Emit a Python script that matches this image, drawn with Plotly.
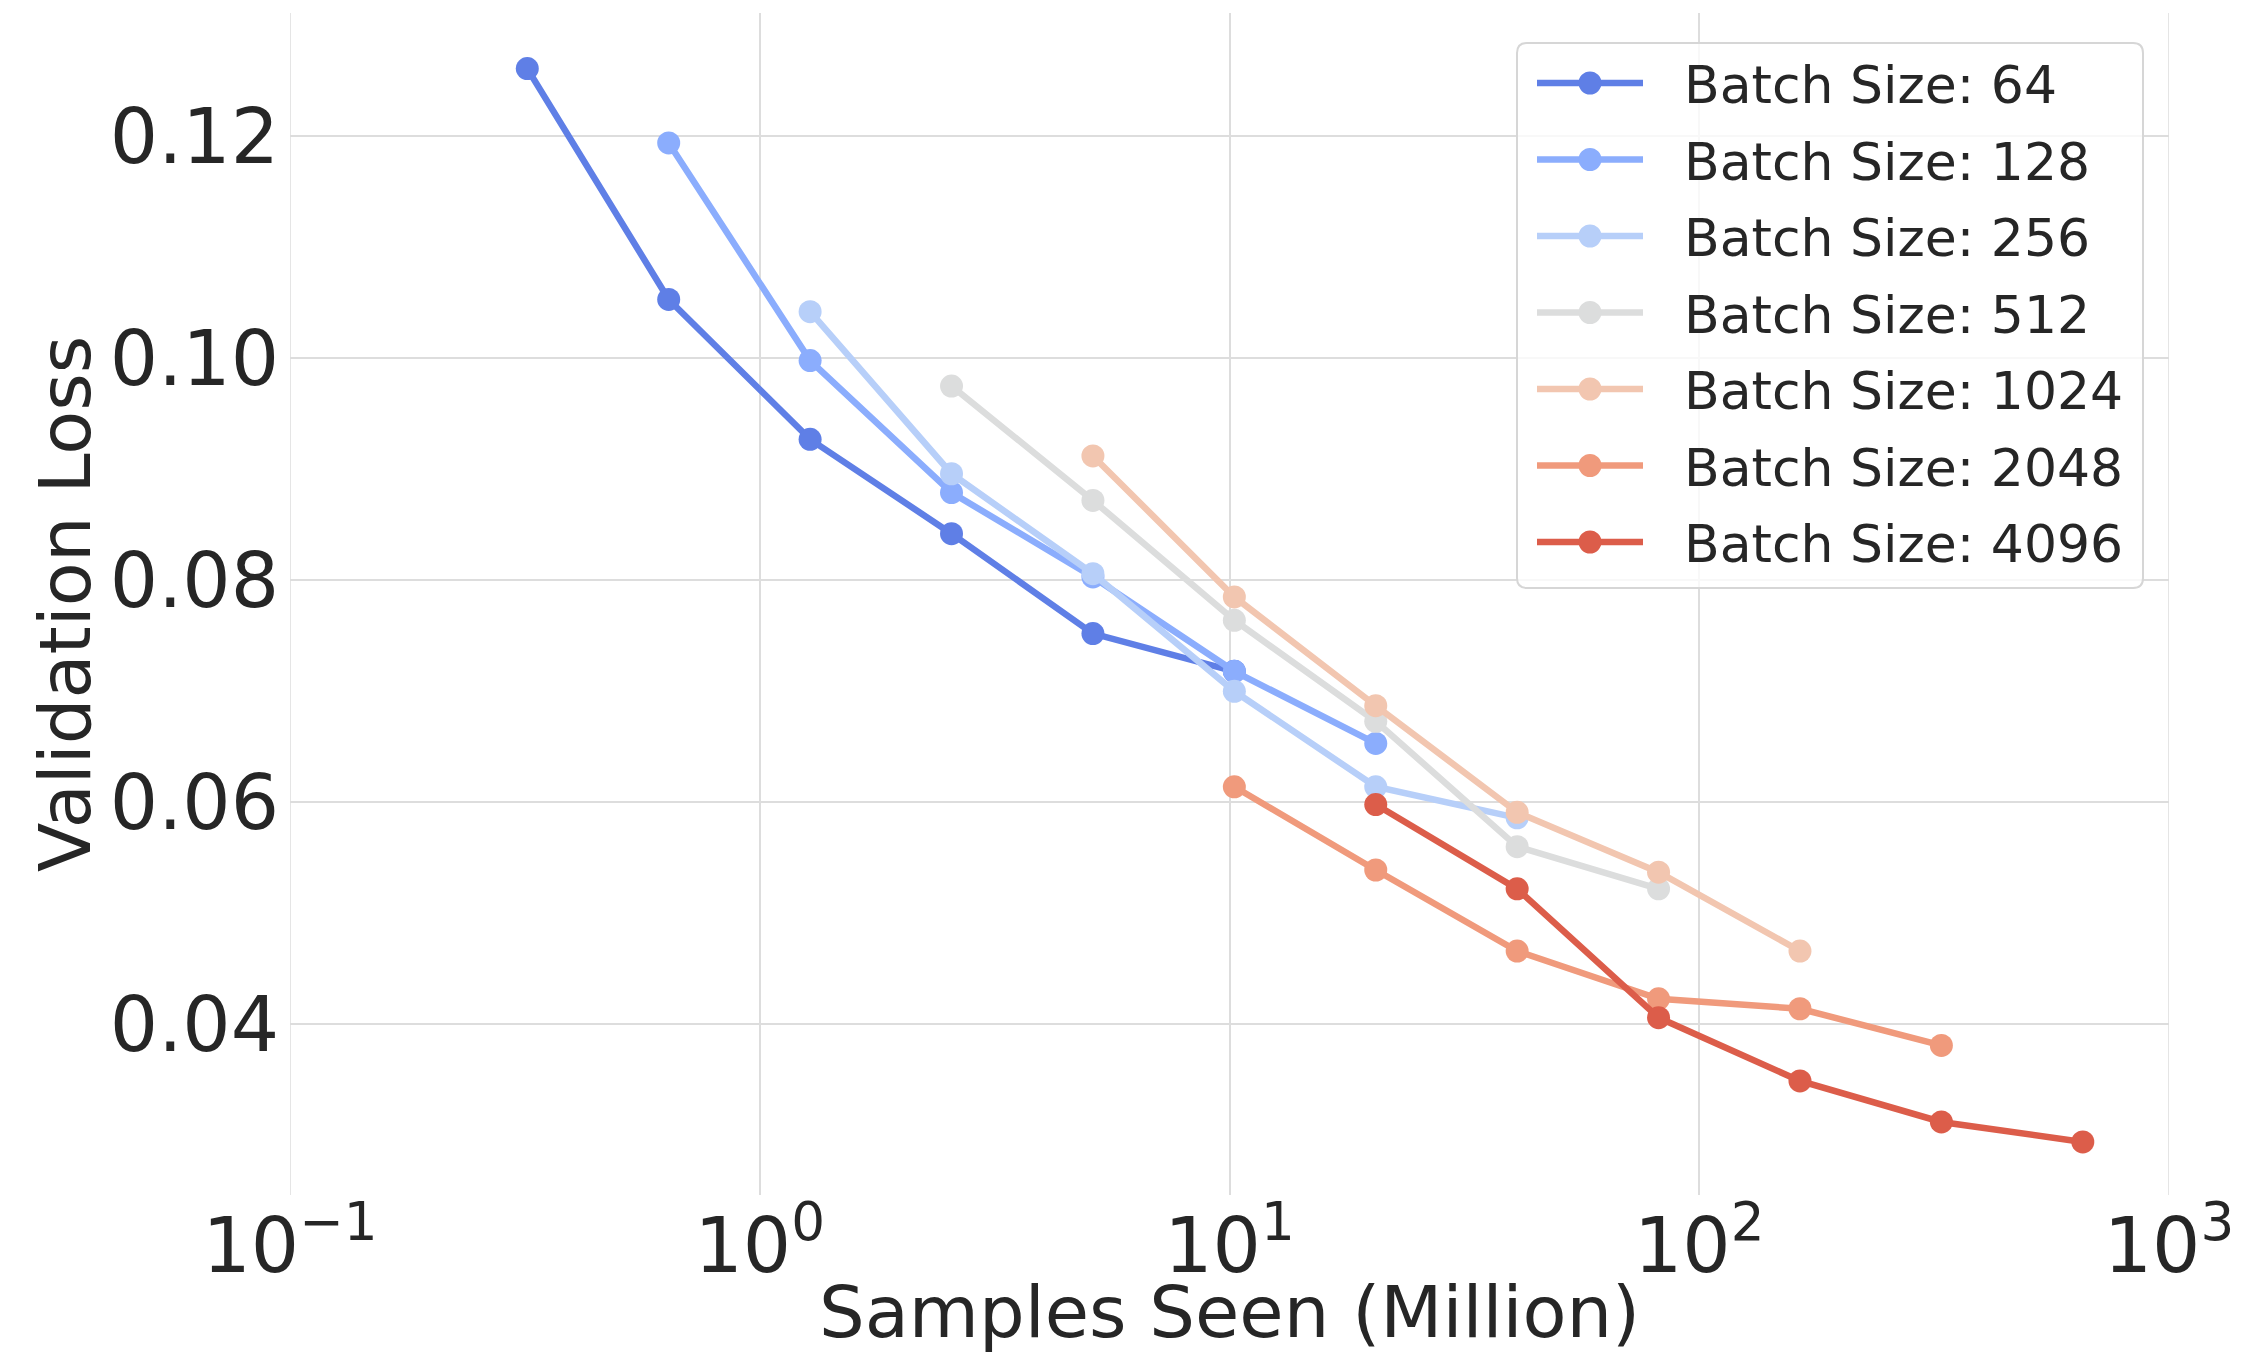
import plotly.graph_objects as go

batch_sizes = [64, 128, 256, 512, 1024, 2048, 4096]
samples = {
    64:   [0.32, 0.64, 1.28, 2.56, 5.12, 10.24],
    128:  [0.64, 1.28, 2.56, 5.12, 10.24, 20.48],
    256:  [1.28, 2.56, 5.12, 10.24, 20.48, 40.96],
    512:  [2.56, 5.12, 10.24, 20.48, 40.96, 81.92],
    1024: [5.12, 10.24, 20.48, 40.96, 81.92, 163.84],
    2048: [10.24, 20.48, 40.96, 81.92, 163.84, 327.68],
    4096: [20.48, 40.96, 81.92, 163.84, 327.68, 655.36],
}
loss_64 = [0.1261, 0.1053, 0.0927, 0.0842, 0.0752, 0.0718]
loss_128 = [0.1194, 0.0998, 0.0879, 0.0803, 0.0718, 0.0653]
loss_256 = [0.1042, 0.0896, 0.0806, 0.0700, 0.0614, 0.0586]
loss_512 = [0.0975, 0.0872, 0.0764, 0.0673, 0.0560, 0.0522]
loss_1024 = [0.0912, 0.0785, 0.0687, 0.0591, 0.0537, 0.0466]
loss_2048 = [0.0614, 0.0539, 0.0466, 0.0423, 0.0414, 0.0381]
loss_4096 = [0.0598, 0.0522, 0.0406, 0.0349, 0.0312, 0.0294]
losses = {64: loss_64, 128: loss_128, 256: loss_256, 512: loss_512,
          1024: loss_1024, 2048: loss_2048, 4096: loss_4096}
colors = ["#5f7fe6", "#8badfd", "#b7cff9", "#dcdddd", "#f2c6b0", "#f09a7c", "#dc5d4a"]

y_ticks = [0.04, 0.06, 0.08, 0.10, 0.12]
x_tick_vals = [0.1, 1, 10, 100, 1000]
x_tick_text = ["10<sup>\u22121</sup>", "10<sup>0</sup>", "10<sup>1</sup>", "10<sup>2</sup>", "10<sup>3</sup>"]

FONT = "DejaVu Sans"
TXT = "#262626"
W, H = 2249, 1358
L, R, T, B = 290, 80, 13, 163
PW, PH = W - L - R, H - T - B

def px(x):
    return (x - L) / PW

def py(y):
    return (H - B - y) / PH

fig = go.Figure()
for i, bs in enumerate(batch_sizes):
    fig.add_trace(go.Scatter(
        x=samples[bs], y=losses[bs], mode="lines+markers",
        name=f"Batch Size: {bs}", showlegend=False,
        line=dict(color=colors[i], width=6.5),
        marker=dict(color=colors[i], size=23),
    ))

shapes = []
annotations = []
# edge gridlines at 10^-1 and 10^3
for xv in (0.1, 1000):
    shapes.append(dict(type="line", xref="x", yref="paper", x0=xv, x1=xv, y0=0, y1=1,
                       line=dict(color="#dddddd", width=1.5), layer="below"))

# legend box (rounded)
bx0, bx1, by0, by1, rr = 1517, 2143, 43, 588, 10
path = (f"M {px(bx0+rr)},{py(by0)} L {px(bx1-rr)},{py(by0)} Q {px(bx1)},{py(by0)} {px(bx1)},{py(by0+rr)} "
        f"L {px(bx1)},{py(by1-rr)} Q {px(bx1)},{py(by1)} {px(bx1-rr)},{py(by1)} "
        f"L {px(bx0+rr)},{py(by1)} Q {px(bx0)},{py(by1)} {px(bx0)},{py(by1-rr)} "
        f"L {px(bx0)},{py(by0+rr)} Q {px(bx0)},{py(by0)} {px(bx0+rr)},{py(by0)} Z")
shapes.append(dict(type="path", xref="paper", yref="paper", path=path,
                   fillcolor="rgba(255,255,255,0.8)", line=dict(color="#d6d6d6", width=2), layer="above"))
row0, row_step = 83, 76.5
for i, bs in enumerate(batch_sizes):
    yc = row0 + i * row_step
    shapes.append(dict(type="line", xref="paper", yref="paper", x0=px(1537), x1=px(1643), y0=py(yc), y1=py(yc),
                       line=dict(color=colors[i], width=6.5), layer="above"))
    r = 11.5
    shapes.append(dict(type="circle", xref="paper", yref="paper", x0=px(1590 - r), x1=px(1590 + r),
                       y0=py(yc + r), y1=py(yc - r), fillcolor=colors[i], line=dict(width=0), layer="above"))
    annotations.append(dict(xref="paper", yref="paper", x=px(1682), y=py(yc + 2), xanchor="left", yanchor="middle",
                            text=f"Batch Size: {bs}", showarrow=False,
                            font=dict(size=52, family=FONT, color=TXT)))

# axis titles
annotations.append(dict(xref="paper", yref="paper", x=px(65), y=0.5, xanchor="center", yanchor="middle",
                        text="Validation Loss", textangle=-90, showarrow=False,
                        font=dict(size=72, family=FONT, color=TXT)))
annotations.append(dict(xref="paper", yref="paper", x=0.5, y=py(1312), xanchor="center", yanchor="middle",
                        text="Samples Seen (Million)", showarrow=False,
                        font=dict(size=72, family=FONT, color=TXT)))

fig.update_layout(
    width=W, height=H,
    paper_bgcolor="white", plot_bgcolor="white",
    margin=dict(l=L, r=R, t=T, b=B),
    font=dict(family=FONT, color=TXT),
    showlegend=False,
    shapes=shapes, annotations=annotations,
    xaxis=dict(
        type="log", range=[-1, 3], tickvals=x_tick_vals, ticktext=x_tick_text,
        showgrid=True, gridcolor="#dddddd", gridwidth=1.5,
        zeroline=False, showline=False, ticks="", automargin=False,
        tickfont=dict(size=76, family=FONT, color=TXT),
    ),
    yaxis=dict(
        range=[0.02462, 0.13111], tickvals=y_ticks, tickformat=".2f",
        showgrid=True, gridcolor="#dddddd", gridwidth=1.5,
        zeroline=False, showline=False, ticks="", automargin=False,
        ticklabelstandoff=10,
        tickfont=dict(size=76, family=FONT, color=TXT),
    ),
)

fig.write_html("out.html", config={"displayModeBar": False},
               post_script="document.body.style.margin='0px';document.body.style.padding='0px';")
